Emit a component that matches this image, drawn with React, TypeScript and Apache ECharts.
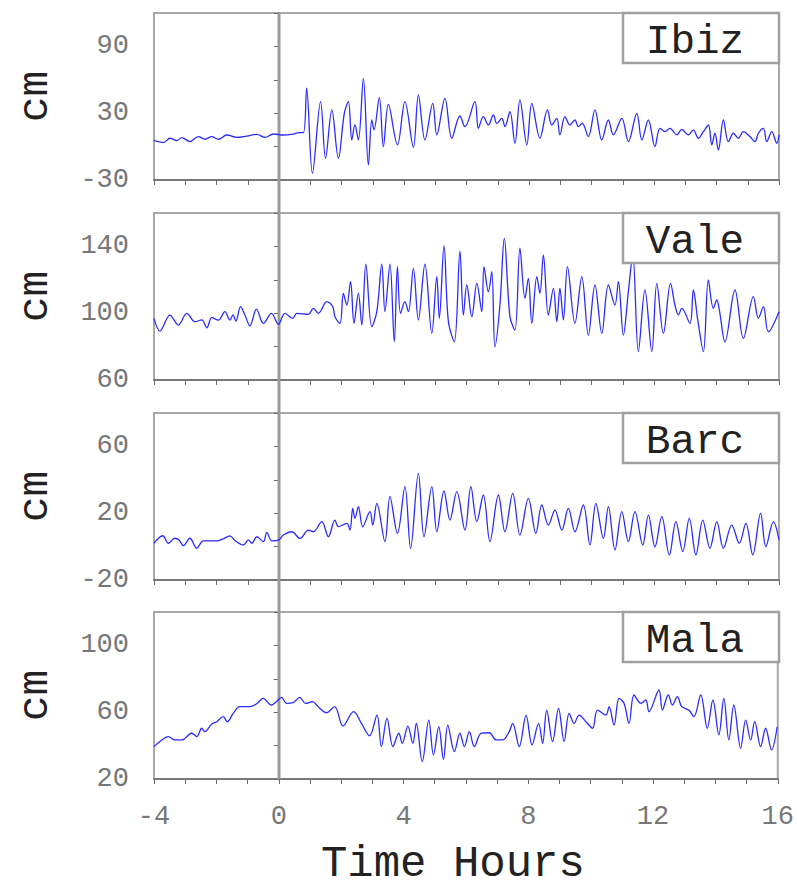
import React, { useEffect, useRef } from "react";
import * as echarts from "echarts";

const stationNames = ["Ibiz", "Vale", "Barc", "Mala"];
const xMajorTicks = [-4, 0, 4, 8, 12, 16];
const xAxisTitle = "Time Hours";
const yAxisTitle = "cm";

const yMins = [-30, 60, -20, 20];
const yMaxs = [120, 160, 80, 120];
const yIntervals = [30, 20, 20, 20];

const ibiz: number[][] = [
  [-4.0, 5.5], [-3.7, 3.6], [-3.49, 7.5], [-3.27, 5.4], [-3.11, 8.0], [-2.85, 4.5], [-2.58, 9.0], [-2.37, 6.6],
  [-2.15, 9.0], [-1.94, 6.6], [-1.67, 10.4], [-1.35, 8.3], [-1.03, 9.5], [-0.71, 11.0], [-0.45, 8.3], [-0.18, 11.3],
  [0.14, 10.4], [0.46, 11.3], [0.62, 12.5], [0.78, 12.5], [0.885, 52.4], [1.07, -24.0], [1.33, 40.4], [1.49, -10.5],
  [1.69, 32.9], [1.9, -10.5], [2.09, 29.9], [2.22, 40.4], [2.33, 6.0], [2.43, 19.4], [2.54, 6.0], [2.7, 61.3],
  [2.86, -16.5], [2.97, 23.9], [3.04, 15.0], [3.21, 44.3], [3.34, 0.0], [3.5, 38.0], [3.79, 1.5], [4.03, 40.4],
  [4.3, -0.6], [4.46, 46.4], [4.67, 6.0], [4.92, 38.9], [5.05, 10.5], [5.31, 43.4], [5.53, 7.5], [5.79, 27.5],
  [5.95, 17.9], [6.27, 40.4], [6.38, 16.4], [6.54, 26.9], [6.7, 19.4], [6.86, 28.4], [6.97, 20.9], [7.13, 25.4],
  [7.23, 17.9], [7.39, 31.4], [7.55, 2.9], [7.71, 41.9], [7.93, 1.5], [8.09, 38.9], [8.35, 7.5], [8.59, 32.9],
  [8.73, 19.4], [8.89, 25.4], [8.99, 10.5], [9.15, 26.9], [9.31, 19.4], [9.47, 23.9], [9.58, 17.9], [9.7, 21.0],
  [9.9, 9.0], [10.11, 32.9], [10.33, 6.0], [10.54, 23.9], [10.7, 10.5], [10.97, 25.4], [11.18, 4.5], [11.45, 29.9],
  [11.61, 6.0], [11.82, 23.9], [12.03, 0.0], [12.19, 16.4], [12.35, 13.5], [12.51, 16.4], [12.73, 10.5], [12.89, 15.5],
  [13.1, 10.5], [13.26, 15.0], [13.42, 7.5], [13.58, 13.4], [13.74, 19.4], [13.85, 1.5], [13.95, 12.0], [14.06, -3.0],
  [14.22, 23.9], [14.38, 4.5], [14.54, 12.0], [14.7, 7.5], [14.86, 13.4], [15.07, 9.0], [15.23, 4.5], [15.34, 12.0],
  [15.5, 16.4], [15.61, 4.5], [15.77, 13.4], [15.93, 3.0], [16.0, 10.5],
];

const vale: number[][] = [
  [-4.0, 96.9], [-3.81, 89.3], [-3.49, 98.9], [-3.22, 92.9], [-2.95, 99.9], [-2.69, 94.9], [-2.47, 96.0], [-2.31, 91.3],
  [-2.15, 97.3], [-1.94, 95.9], [-1.73, 100.9], [-1.57, 95.9], [-1.47, 99.0], [-1.38, 95.3], [-1.23, 103.9], [-1.09, 98.9],
  [-0.93, 92.5], [-0.72, 102.5], [-0.5, 93.9], [-0.24, 99.9], [-0.02, 93.3], [0.19, 99.9], [0.44, 96.9], [0.57, 99.9],
  [0.94, 99.3], [1.1, 102.9], [1.26, 99.9], [1.53, 106.9], [1.72, 103.9], [1.79, 97.9], [1.95, 93.9], [2.06, 111.9],
  [2.17, 104.9], [2.29, 118.9], [2.4, 93.9], [2.54, 111.9], [2.65, 92.9], [2.78, 129.3], [2.97, 91.9], [3.13, 100.9],
  [3.29, 129.3], [3.39, 100.9], [3.55, 129.3], [3.69, 82.9], [3.79, 127.9], [3.89, 99.9], [4.03, 106.9], [4.14, 100.9],
  [4.3, 126.9], [4.46, 95.9], [4.67, 129.3], [4.89, 87.9], [5.05, 121.9], [5.13, 96.9], [5.28, 140.4], [5.42, 95.0],
  [5.61, 82.9], [5.79, 137.2], [5.9, 98.9], [6.01, 116.9], [6.17, 97.9], [6.33, 117.9], [6.49, 100.9], [6.56, 127.9],
  [6.7, 112.9], [6.81, 124.9], [6.91, 79.9], [7.07, 104.9], [7.21, 144.8], [7.39, 97.9], [7.55, 89.9], [7.71, 138.9],
  [7.87, 108.9], [7.98, 120.9], [8.09, 93.9], [8.25, 121.9], [8.35, 111.9], [8.46, 134.9], [8.62, 98.9], [8.78, 114.9],
  [8.89, 94.9], [8.99, 114.9], [9.1, 95.9], [9.23, 127.9], [9.47, 93.9], [9.69, 121.9], [9.9, 86.9], [10.11, 116.9],
  [10.33, 87.9], [10.54, 116.9], [10.75, 104.9], [10.86, 118.9], [11.02, 86.9], [11.18, 112.9], [11.32, 134.9], [11.5, 77.0],
  [11.71, 113.9], [11.93, 77.0], [12.09, 117.9], [12.3, 87.9], [12.53, 117.9], [12.67, 104.9], [12.78, 99.0], [12.89, 102.9],
  [13.15, 93.9], [13.26, 113.9], [13.4, 96.0], [13.58, 77.0], [13.74, 119.9], [13.9, 102.9], [14.01, 107.9], [14.1, 101.0],
  [14.27, 82.9], [14.59, 113.9], [14.86, 84.9], [15.18, 109.9], [15.34, 96.9], [15.5, 103.9], [15.66, 88.9], [16.0, 100.9],
];

const barc: number[][] = [
  [-4.0, 2.0], [-3.72, 6.5], [-3.54, 2.0], [-3.33, 5.0], [-3.2, 4.0], [-3.06, 0.6], [-2.85, 5.0], [-2.63, -1.0],
  [-2.42, 3.4], [-1.99, 3.4], [-1.8, 4.5], [-1.57, 6.4], [-1.4, 3.5], [-1.14, 1.0], [-0.98, 4.0], [-0.87, 2.0],
  [-0.71, 5.9], [-0.5, 3.0], [-0.39, 8.5], [-0.23, 3.4], [0.0, 4.0], [0.14, 6.9], [0.41, 8.9], [0.67, 4.9],
  [0.94, 9.9], [1.1, 8.9], [1.37, 14.9], [1.58, 5.9], [1.79, 15.9], [1.9, 12.0], [2.17, 13.9], [2.27, 9.9],
  [2.36, 22.9], [2.43, 16.9], [2.54, 23.9], [2.68, 11.9], [2.91, 20.9], [3.0, 12.9], [3.13, 25.9], [3.39, 3.0],
  [3.55, 29.9], [3.79, 7.9], [4.03, 35.9], [4.21, -1.0], [4.46, 43.9], [4.64, 5.9], [4.89, 35.9], [5.05, 8.9],
  [5.28, 33.3], [5.47, 15.9], [5.69, 32.9], [5.95, 9.9], [6.14, 35.9], [6.33, 14.9], [6.54, 30.9], [6.75, 3.0],
  [7.02, 30.9], [7.23, 8.9], [7.48, 31.9], [7.71, 6.9], [7.98, 28.9], [8.22, 7.9], [8.41, 24.9], [8.62, 12.9],
  [8.83, 21.9], [9.05, 9.9], [9.26, 22.9], [9.47, 8.9], [9.74, 24.9], [9.95, 1.0], [10.14, 25.9], [10.38, 4.9],
  [10.54, 23.9], [10.75, -2.0], [10.97, 20.9], [11.18, 3.0], [11.39, 20.9], [11.64, 1.0], [11.82, 18.9], [12.03, -0.1],
  [12.25, 17.9], [12.49, -5.0], [12.7, 14.9], [12.92, -3.0], [13.13, 16.9], [13.34, -5.0], [13.56, 15.9], [13.79, -1.0],
  [14.01, 14.9], [14.22, -1.0], [14.49, 12.9], [14.73, 2.0], [14.94, 13.9], [15.16, -5.0], [15.41, 19.9], [15.58, 0.0],
  [15.82, 14.9], [16.0, 4.0],
];

const mala: number[][] = [
  [-4.0, 39.4], [-3.81, 42.4], [-3.54, 45.4], [-3.33, 43.4], [-3.11, 43.4], [-2.79, 47.4], [-2.63, 45.4], [-2.47, 50.4],
  [-2.37, 48.4], [-2.15, 52.9], [-1.99, 54.3], [-1.78, 57.3], [-1.65, 54.3], [-1.46, 59.3], [-1.25, 63.3], [-0.93, 63.3],
  [-0.72, 64.9], [-0.5, 68.3], [-0.24, 64.3], [-0.08, 66.3], [0.09, 68.9], [0.25, 65.3], [0.46, 65.7], [0.67, 68.9],
  [0.86, 65.3], [1.08, 66.3], [1.26, 63.3], [1.53, 59.7], [1.79, 63.3], [2.06, 51.7], [2.4, 60.3], [2.65, 53.3],
  [2.91, 45.8], [3.15, 58.3], [3.29, 39.4], [3.47, 56.3], [3.66, 39.4], [3.85, 47.4], [3.96, 41.4], [4.14, 51.7],
  [4.3, 41.4], [4.41, 53.3], [4.6, 30.4], [4.81, 55.3], [4.96, 34.4], [5.13, 51.3], [5.28, 31.8], [5.42, 52.3],
  [5.63, 36.4], [5.81, 47.4], [5.95, 39.4], [6.11, 48.4], [6.27, 39.4], [6.49, 47.4], [6.75, 47.7], [6.97, 43.4],
  [7.18, 43.4], [7.39, 48.4], [7.5, 53.3], [7.71, 39.4], [7.93, 58.3], [8.12, 40.4], [8.33, 53.3], [8.46, 41.4],
  [8.59, 61.3], [8.78, 42.4], [8.97, 62.3], [9.15, 42.4], [9.31, 59.3], [9.47, 53.3], [9.63, 58.3], [9.85, 54.3],
  [10.06, 50.4], [10.22, 61.3], [10.49, 58.3], [10.59, 63.3], [10.75, 52.3], [10.91, 68.3], [11.07, 65.3], [11.23, 53.3],
  [11.39, 70.3], [11.61, 65.3], [11.77, 67.3], [11.87, 60.3], [12.19, 73.3], [12.3, 61.3], [12.49, 70.3], [12.62, 64.3],
  [12.78, 69.3], [12.92, 63.3], [13.15, 61.3], [13.31, 57.3], [13.53, 70.3], [13.74, 50.4], [13.92, 67.3], [14.11, 46.4],
  [14.27, 68.3], [14.43, 43.4], [14.59, 64.3], [14.81, 38.4], [14.97, 55.3], [15.13, 43.4], [15.26, 54.3], [15.45, 39.4],
  [15.61, 50.4], [15.8, 37.4], [15.98, 51.3],
];

const stationData = [ibiz, vale, barc, mala];

const FONT = "'Courier New', 'Liberation Mono', monospace";

export default function App() {
  const ref = useRef<HTMLDivElement>(null);
  useEffect(() => {
    const chart = echarts.init(ref.current!, null, { renderer: "svg" });
    const gridTops = [13, 213, 413, 612];
    const gridH = 167;
    const gridL = 154;
    const gridW = 625;
    const option: any = {
      animation: false,
      backgroundColor: "#ffffff",
      grid: gridTops.map((t) => ({
        left: gridL,
        top: t,
        width: gridW,
        height: gridH,
        show: true,
        borderColor: "#a8a8a8",
        borderWidth: 2,
        backgroundColor: "transparent",
      })),
      xAxis: gridTops.map((_, i) => ({
        type: "value",
        gridIndex: i,
        min: -4,
        max: 16,
        interval: 1,
        axisLine: { show: true, onZero: false, lineStyle: { color: "#6a6a6a", width: 1.5 } },
        axisTick: { show: true, length: 5, lineStyle: { color: "#6a6a6a", width: 1 } },
        splitLine: { show: false },
        axisLabel: {
          show: i === 3,
          margin: 24,
          color: "#777",
          fontFamily: FONT,
          fontSize: 27,
          formatter: (v: number) => (xMajorTicks.includes(v) ? String(v) : ""),
        },
        name: i === 3 ? xAxisTitle : "",
        nameLocation: "middle",
        nameGap: 66,
        nameTextStyle: {
          fontFamily: FONT,
          fontSize: 44,
          lineHeight: 38,
          color: "#222",
          padding: [0, 26, 0, 0],
        },
      })),
      yAxis: gridTops.map((_, i) => ({
        type: "value",
        gridIndex: i,
        min: yMins[i],
        max: yMaxs[i],
        interval: yIntervals[i],
        axisLine: { show: true, lineStyle: { color: "#6a6a6a", width: 1.5 } },
        axisTick: { show: true, length: 5, lineStyle: { color: "#6a6a6a", width: 1 } },
        splitLine: { show: false },
        axisLabel: {
          margin: 25,
          color: "#777",
          fontFamily: FONT,
          fontSize: 27,
          formatter: (v: number) =>
            Math.round(v - yMins[i]) % (2 * yIntervals[i]) === 0 && v < yMaxs[i] ? String(v) : "",
        },
        name: yAxisTitle,
        nameLocation: "middle",
        nameRotate: 90,
        nameGap: 97,
        nameTextStyle: { fontFamily: FONT, fontSize: 43, color: "#222" },
      })),
      series: stationData.map((d, i) => ({
        type: "line",
        xAxisIndex: i,
        yAxisIndex: i,
        data: d,
        showSymbol: false,
        smooth: 0.35,
        lineStyle: { color: "#2b2bff", width: 1.3 },
        z: 3,
      })),
    };
    chart.setOption(option);

    const x0 = chart.convertToPixel({ xAxisIndex: 0 }, 0) as number;
    const topY = gridTops[0];
    const botY = gridTops[3] + gridH;
    const graphics: any[] = [
      {
        type: "line",
        z: 1,
        shape: { x1: x0, y1: topY, x2: x0, y2: botY },
        style: { stroke: "#9a9a9a", lineWidth: 3 },
      },
    ];
    const boxW = 156;
    const boxH = 50;
    gridTops.forEach((t, i) => {
      const right = gridL + gridW;
      graphics.push({
        type: "rect",
        z: 10,
        shape: { x: right - boxW, y: t, width: boxW, height: boxH },
        style: { fill: "#ffffff", stroke: "#a0a0a0", lineWidth: 2.5 },
      });
      graphics.push({
        type: "text",
        z: 11,
        x: right - boxW + 72,
        y: t + 29,
        style: {
          text: stationNames[i],
          fontFamily: FONT,
          fontSize: 41,
          fill: "#222",
          textAlign: "center",
          textVerticalAlign: "middle",
          align: "center",
          verticalAlign: "middle",
        },
      });
    });
    chart.setOption({ graphic: graphics });
    return () => chart.dispose();
  }, []);
  return <div ref={ref} style={{ position: "fixed", left: 0, top: 0, width: 797, height: 891 }} />;
}
